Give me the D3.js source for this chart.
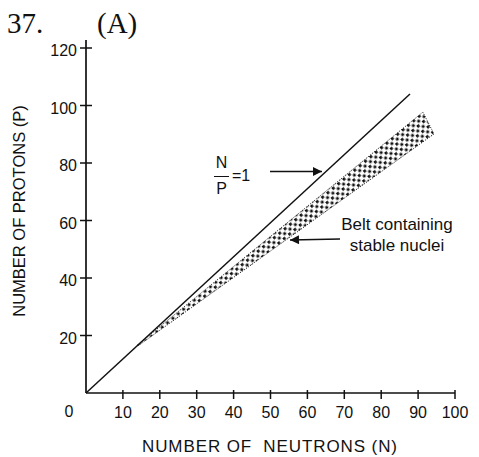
<!DOCTYPE html>
<html lang="en">
  <head>
    <meta charset="UTF-8" />
    <title>Stable nuclei belt</title>
    <script src="https://d3js.org/d3.v7.min.js"></script>
    <style>
      body { margin: 0; background: #fff; }
      text { font-family: "Liberation Sans", Arial, sans-serif; fill: #111; }
      text.serif { font-family: "Liberation Serif", "Times New Roman", serif; }
    </style>
  </head>
  <body>
    <svg width="479" height="457"></svg>

    <script>
      // 数据
      const xTicks = [10, 20, 30, 40, 50, 60, 70, 80, 90, 100];
      const yTicks = [20, 40, 60, 80, 100, 120];
      // N/P = 1 线 (N, P)
      const ratioLine = [[0, 0], [87.8, 104]];
      // 稳定核带 (N, P)
      const beltUpper = [[14, 16.8], [91.3, 97.7]];
      const beltLower = [[94.3, 90.1], [14, 16.3]];

      const svg = d3.select("svg");

      const x = d3.scaleLinear().domain([0, 100]).range([86, 455]);
      const y = d3.scaleLinear().domain([0, 120]).range([393, 48]);

      // 点状填充
      const defs = svg.append("defs");
      const pat = defs.append("pattern")
        .attr("id", "dots")
        .attr("patternUnits", "userSpaceOnUse")
        .attr("width", 7).attr("height", 7)
        .attr("patternTransform", "rotate(-40)");
      pat.append("rect").attr("x", 0).attr("y", 0).attr("width", 2.8).attr("height", 2.8).attr("fill", "#111");
      pat.append("rect").attr("x", 3.5).attr("y", 3.5).attr("width", 2.8).attr("height", 2.8).attr("fill", "#111");

      const marker = defs.append("marker")
        .attr("id", "arrow")
        .attr("viewBox", "0 0 10 10")
        .attr("refX", 10).attr("refY", 5)
        .attr("markerWidth", 11).attr("markerHeight", 9)
        .attr("markerUnits", "userSpaceOnUse")
        .attr("orient", "auto");
      marker.append("path").attr("d", "M0,0L10,5L0,10Z").attr("fill", "#111");

      const line = d3.line().x(d => x(d[0])).y(d => y(d[1]));

      // 带
      svg.append("path")
        .attr("d", line(beltUpper.concat(beltLower)) + "Z")
        .attr("fill", "url(#dots)")
        .attr("stroke", "#111")
        .attr("stroke-width", 1)
        .attr("stroke-dasharray", "1,1.5");

      // N/P = 1
      svg.append("path")
        .attr("d", line(ratioLine))
        .attr("stroke", "#111")
        .attr("stroke-width", 1.5)
        .attr("fill", "none");

      // 坐标轴
      svg.append("line")
        .attr("x1", x(0)).attr("x2", x(100))
        .attr("y1", y(0)).attr("y2", y(0))
        .attr("stroke", "#111").attr("stroke-width", 1.7);
      svg.append("line")
        .attr("x1", x(0)).attr("x2", x(0))
        .attr("y1", y(0)).attr("y2", y(120) - 8)
        .attr("stroke", "#111").attr("stroke-width", 1.7);

      svg.selectAll(".xt").data(xTicks).join("line")
        .attr("x1", d => x(d)).attr("x2", d => x(d))
        .attr("y1", y(0) - 3).attr("y2", y(0) + 6)
        .attr("stroke", "#111").attr("stroke-width", 1.5);
      svg.selectAll(".xl").data(xTicks).join("text")
        .attr("x", d => x(d)).attr("y", 418)
        .attr("text-anchor", "middle")
        .attr("font-size", 16)
        .text(d => d);
      svg.append("text")
        .attr("x", 69).attr("y", 417)
        .attr("text-anchor", "middle")
        .attr("font-size", 16)
        .text("0");

      svg.selectAll(".yt").data(yTicks).join("line")
        .attr("x1", x(0) - 6).attr("x2", x(0) + 6)
        .attr("y1", d => y(d)).attr("y2", d => y(d))
        .attr("stroke", "#111").attr("stroke-width", 1.5);
      svg.selectAll(".yl").data(yTicks).join("text")
        .attr("x", 77).attr("y", d => y(d) + 8)
        .attr("text-anchor", "end")
        .attr("font-size", 16)
        .text(d => d);

      // 轴标题
      svg.append("text")
        .attr("x", 142).attr("y", 452)
        .attr("font-size", 17)
        .attr("textLength", 255)
        .attr("xml:space", "preserve")
        .text("NUMBER OF  NEUTRONS (N)");
      svg.append("text")
        .attr("transform", "translate(25,211) rotate(-90)")
        .attr("text-anchor", "middle")
        .attr("font-size", 16.5)
        .text("NUMBER OF PROTONS (P)");

      // 标题
      svg.append("text").attr("class", "serif")
        .attr("x", 7).attr("y", 33)
        .attr("font-size", 29)
        .text("37.");
      svg.append("text").attr("class", "serif")
        .attr("x", 97).attr("y", 33)
        .attr("font-size", 29)
        .text("(A)");

      // 注释
      svg.append("text").attr("x", 221.5).attr("y", 168)
        .attr("text-anchor", "middle").attr("font-size", 16).text("N");
      svg.append("line")
        .attr("x1", 214).attr("x2", 229).attr("y1", 176.5).attr("y2", 176.5)
        .attr("stroke", "#111").attr("stroke-width", 1);
      svg.append("text").attr("x", 221.5).attr("y", 194)
        .attr("text-anchor", "middle").attr("font-size", 16).text("P");
      svg.append("text").attr("x", 232).attr("y", 181)
        .attr("font-size", 16).text("=1");
      svg.append("line")
        .attr("x1", 270).attr("x2", 322).attr("y1", 171.5).attr("y2", 171.5)
        .attr("stroke", "#111").attr("stroke-width", 1.5)
        .attr("marker-end", "url(#arrow)");

      svg.append("text").attr("x", 397).attr("y", 230)
        .attr("text-anchor", "middle").attr("font-size", 17).text("Belt containing");
      svg.append("text").attr("x", 397).attr("y", 251)
        .attr("text-anchor", "middle").attr("font-size", 17).text("stable nuclei");
      svg.append("line")
        .attr("x1", 340).attr("x2", 290).attr("y1", 239).attr("y2", 240)
        .attr("stroke", "#111").attr("stroke-width", 1.5)
        .attr("marker-end", "url(#arrow)");
    </script>
  </body>
</html>
